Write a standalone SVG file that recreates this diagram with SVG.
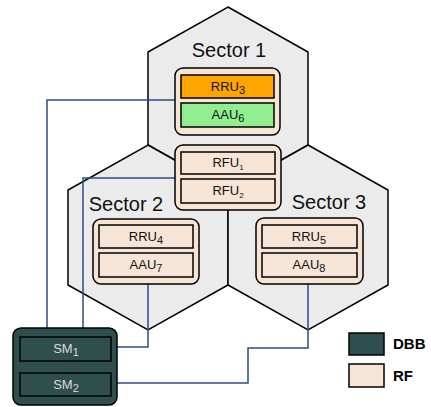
<svg xmlns="http://www.w3.org/2000/svg" width="431" height="407" viewBox="0 0 431 407">
<style>
.hex{fill:#ebebeb;stroke:#000;stroke-width:1.5}
.grp{fill:#f6e4d7;stroke:#000;stroke-width:1.5}
.rf{fill:#f6e4d7;stroke:#000;stroke-width:1.5}
.dbb{fill:#2f4f4f;stroke:#000;stroke-width:1.5}
.sec{font-family:"Liberation Sans",Arial,sans-serif;font-size:20px;fill:#111;text-anchor:middle}
.lbl{font-family:"Liberation Sans",Arial,sans-serif;font-size:13px;fill:#111;text-anchor:middle}
.sm{font-family:"Liberation Sans",Arial,sans-serif;font-size:13px;fill:#d8d8d8;text-anchor:middle}
.leg{font-family:"Liberation Sans",Arial,sans-serif;font-size:15px;font-weight:bold;fill:#000}
.con{fill:none;stroke:#2b4d87;stroke-width:1.5}
</style>
<g id="sector1">
<path class="hex" d="M228,7 L308,52 L308,145 L228,190 L148,145 L148,52 Z"/>
<text class="sec" x="229" y="57">Sector 1</text>
</g>
<g id="sector2">
<path class="hex" d="M148,145 L228,190 L228,285 L148,330 L68,285 L68,190 Z"/>
<text class="sec" x="126" y="211">Sector 2</text>
</g>
<g id="sector3">
<path class="hex" d="M308,145 L388,190 L388,285 L308,330 L228,285 L228,190 Z"/>
<text class="sec" x="329" y="209">Sector 3</text>
</g>
<g id="connectors">
<path class="con" d="M175,100 H47 V328"/>
<path class="con" d="M175,178 H83 V328"/>
<path class="con" d="M148,284 V347 H117"/>
<path class="con" d="M308,284 V348 H248 V383 H117"/>
</g>
<g id="rf-sector1">
<rect class="grp" x="175" y="68" width="105" height="67" rx="8"/>
<rect x="181" y="75" width="93" height="23" fill="#ffa500" stroke="#000" stroke-width="1.5"/>
<text class="lbl" x="228" y="91">RRU<tspan font-size="11" dy="3">3</tspan></text>
<rect x="181" y="103" width="93" height="24" fill="#90ee90" stroke="#000" stroke-width="1.5"/>
<text class="lbl" x="228" y="119">AAU<tspan font-size="11" dy="3">6</tspan></text>
</g>
<g id="rfu">
<rect class="grp" x="175" y="145" width="106" height="65" rx="8"/>
<rect class="rf" x="181" y="152" width="94" height="22"/>
<text class="lbl" x="228" y="167">RFU<tspan font-size="8" dy="3">1</tspan></text>
<rect class="rf" x="181" y="179" width="94" height="24"/>
<text class="lbl" x="228" y="195">RFU<tspan font-size="8" dy="3">2</tspan></text>
</g>
<g id="rf-sector2">
<rect class="grp" x="93" y="219" width="106" height="65" rx="8"/>
<rect class="rf" x="99" y="225" width="94" height="23"/>
<text class="lbl" x="146" y="241">RRU<tspan font-size="11" dy="3">4</tspan></text>
<rect class="rf" x="99" y="253" width="94" height="24"/>
<text class="lbl" x="146" y="269">AAU<tspan font-size="11" dy="3">7</tspan></text>
</g>
<g id="rf-sector3">
<rect class="grp" x="256" y="218" width="107" height="66" rx="8"/>
<rect class="rf" x="262" y="225" width="95" height="23"/>
<text class="lbl" x="309" y="241">RRU<tspan font-size="11" dy="3">5</tspan></text>
<rect class="rf" x="262" y="253" width="95" height="24"/>
<text class="lbl" x="309" y="269">AAU<tspan font-size="11" dy="3">8</tspan></text>
</g>
<g id="dbb">
<rect class="dbb" x="13" y="328" width="104" height="77" rx="8"/>
<rect class="dbb" x="20" y="337" width="91" height="24"/>
<text class="sm" x="66" y="353">SM<tspan font-size="11" dy="3">1</tspan></text>
<rect class="dbb" x="20" y="373" width="91" height="23"/>
<text class="sm" x="66" y="389">SM<tspan font-size="11" dy="3">2</tspan></text>
</g>
<g id="legend">
<rect class="dbb" x="349" y="333" width="35" height="22"/>
<text class="leg" x="393" y="349">DBB</text>
<rect class="rf" x="349" y="364" width="35" height="23"/>
<text class="leg" x="393" y="381">RF</text>
</g>
</svg>
